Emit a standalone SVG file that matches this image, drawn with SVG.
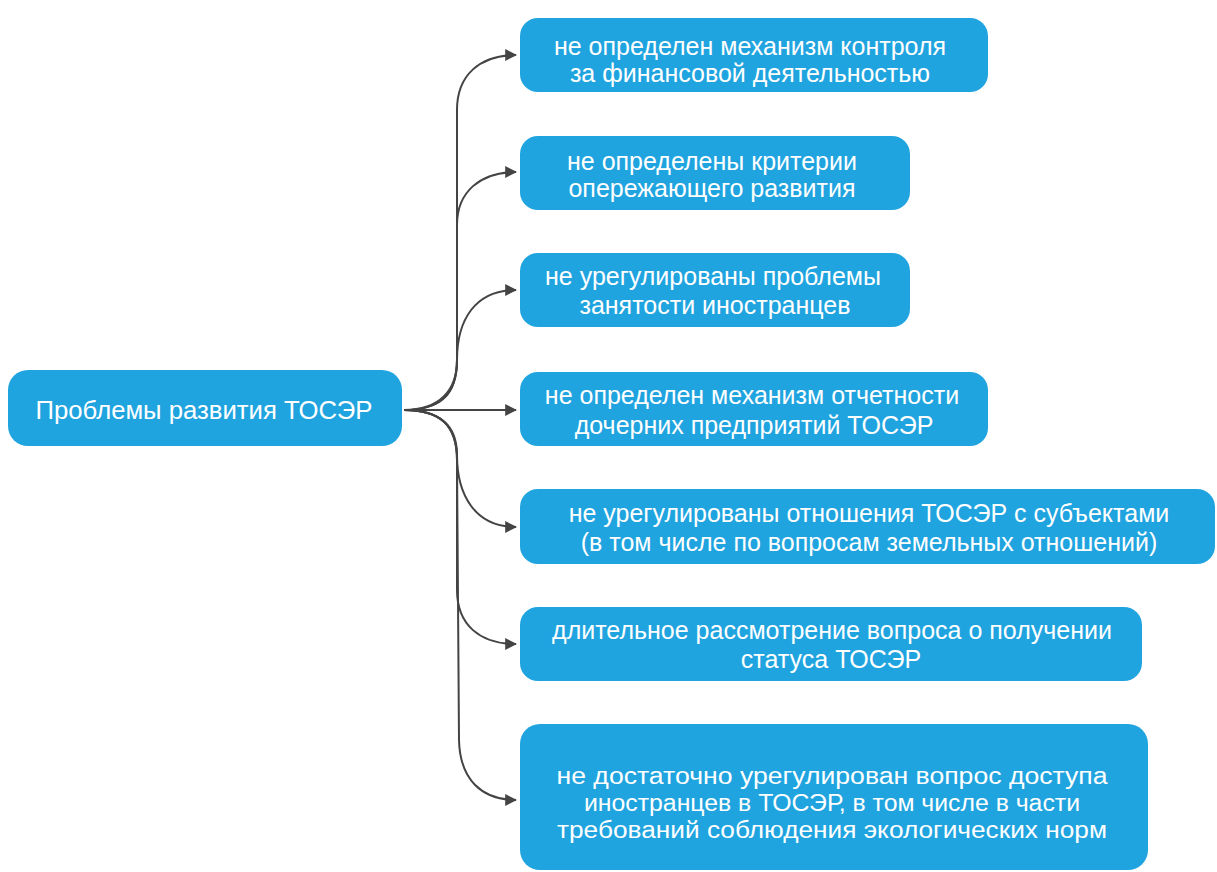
<svg xmlns="http://www.w3.org/2000/svg" width="1217" height="872" viewBox="0 0 1217 872">
<defs>
<marker id="arr" viewBox="0 0 10 10" refX="9" refY="5" markerWidth="6" markerHeight="6" orient="auto" markerUnits="strokeWidth"><path d="M0,0 L10,5 L0,10 z" fill="#444"/></marker>
<style>
.box{fill:#1fa4df;}
.t{fill:#fff;font-family:"Liberation Sans",Arial,sans-serif;font-size:25px;text-anchor:middle;}
.t7{fill:#fff;font-family:"Liberation Sans",Arial,sans-serif;font-size:23px;text-anchor:middle;}
.c{fill:none;stroke:#444;stroke-width:2;marker-end:url(#arr);}
</style>
</defs>
<rect width="1217" height="872" fill="#fff"/>
<g id="connectors">
<path class="c" d="M404,410 C440,410 457,395 457,360 L457,110 C457,75 480,55 516,55"/>
<path class="c" d="M404,410 C440,410 457,395 457,360 L457,225 C457,192 480,172 516,172"/>
<path class="c" d="M404,410 C440,410 457,390 457,360 C457,320 475,290 516,290"/>
<path class="c" d="M404,410 L516,410"/>
<path class="c" d="M404,410 C440,410 457,425 457,455 C457,495 475,527 516,527"/>
<path class="c" d="M404,410 C440,410 457,425 457,460 L457,590 C457,625 480,644 516,644"/>
<path class="c" d="M404,410 C440,410 457,425 457,460 L459,740 C460,780 482,800 516,800"/>
</g>
<g id="root"><rect class="box" x="8" y="370" width="394" height="76" rx="20"/><text class="t" x="204" y="419" textLength="337" lengthAdjust="spacingAndGlyphs">Проблемы развития ТОСЭР</text></g>
<g id="n1"><rect class="box" x="520" y="18" width="468" height="74" rx="18"/><text class="t" x="750" y="55">не определен механизм контроля</text><text class="t" x="750" y="82">за финансовой деятельностью</text></g>
<g id="n2"><rect class="box" x="520" y="136" width="390" height="74" rx="18"/><text class="t" x="712" y="170">не определены критерии</text><text class="t" x="712" y="197">опережающего развития</text></g>
<g id="n3"><rect class="box" x="520" y="253" width="390" height="74" rx="18"/><text class="t" x="713" y="285">не урегулированы проблемы</text><text class="t" x="715" y="314">занятости иностранцев</text></g>
<g id="n4"><rect class="box" x="520" y="372" width="468" height="74" rx="18"/><text class="t" x="752" y="404">не определен механизм отчетности</text><text class="t" x="754" y="434">дочерних предприятий ТОСЭР</text></g>
<g id="n5"><rect class="box" x="520" y="489" width="695" height="75" rx="18"/><text class="t" x="869" y="522">не урегулированы отношения ТОСЭР с субъектами</text><text class="t" x="869" y="551">(в том числе по вопросам земельных отношений)</text></g>
<g id="n6"><rect class="box" x="520" y="607" width="622" height="74" rx="18"/><text class="t" x="832" y="639">длительное рассмотрение вопроса о получении</text><text class="t" x="831" y="668">статуса ТОСЭР</text></g>
<g id="n7"><rect class="box" x="520" y="724" width="628" height="146" rx="20"/><text class="t7" x="832" y="784" textLength="551" lengthAdjust="spacingAndGlyphs">не достаточно урегулирован вопрос доступа</text><text class="t7" x="832" y="811" textLength="496" lengthAdjust="spacingAndGlyphs">иностранцев в ТОСЭР, в том числе в части</text><text class="t7" x="832" y="838" textLength="550" lengthAdjust="spacingAndGlyphs">требований соблюдения экологических норм</text></g>
</svg>
